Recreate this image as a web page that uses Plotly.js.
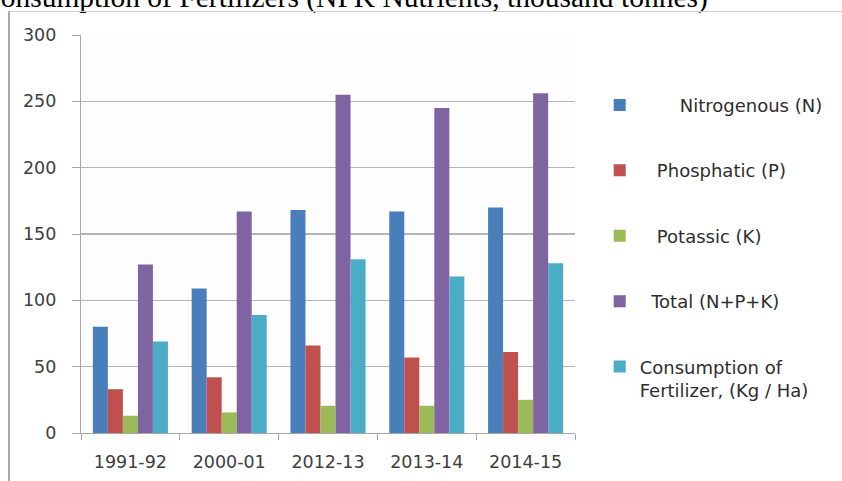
<!DOCTYPE html>
<html>
<head>
<meta charset="utf-8">
<script src="https://cdn.plot.ly/plotly-3.0.1.min.js"></script>
<style>
  html, body { margin: 0; padding: 0; background: #ffffff; }
  #wrap { position: relative; width: 842px; height: 481px; overflow: hidden; }
  #chart { position: absolute; left: 0; top: 0; width: 842px; height: 481px; }
  #frame {
    position: absolute; left: 8px; top: 11px; width: 850px; height: 480px;
    border-left: 2px solid #a9a9a9; border-top: 1px solid #cfcfcf;
    pointer-events: none;
  }
</style>
</head>
<body>
<div id="wrap">
  <div id="chart"></div>
  <div id="frame"></div>
</div>
<script>
// Fertilizer consumption by nutrient (thousand tonnes) and per-hectare use
const years = ['1991-92', '2000-01', '2012-13', '2013-14', '2014-15'];

const nitrogenous = [80, 109, 168, 167, 170];
const phosphatic  = [33, 42, 66, 57, 61];
const potassic    = [13, 15.5, 20.5, 20.5, 25];
const totalNPK    = [127, 167, 255, 245, 256];
const perHectare  = [69, 89, 131, 118, 128];

const seriesNames = [
  '\u00a0\u00a0\u00a0\u00a0\u00a0\u00a0\u00a0Nitrogenous (N)',
  '\u00a0\u00a0\u00a0Phosphatic (P)',
  '\u00a0\u00a0\u00a0Potassic (K)',
  '\u00a0\u00a0Total (N+P+K)',
  'Consumption of<br>Fertilizer, (Kg / Ha)'
];
const seriesColors = ['#4a7ebb', '#c0504d', '#9bbb59', '#8064a2', '#4bacc6'];
const seriesValues = [nitrogenous, phosphatic, potassic, totalNPK, perHectare];

const traces = seriesValues.map((vals, i) => ({
  type: 'bar',
  x: years,
  y: vals,
  name: seriesNames[i],
  legendgroup: 'g' + i,
  marker: { color: seriesColors[i], line: { width: 0 } },
  hoverinfo: 'x+y'
}));

const tickFont = { family: '"DejaVu Sans", sans-serif', size: 17.5, color: '#404040' };

const layout = {
  width: 842,
  height: 481,
  margin: { l: 81, r: 267, t: 35, b: 48 },
  paper_bgcolor: '#ffffff',
  plot_bgcolor: '#fdfdfd',
  barmode: 'group',
  bargap: 0.24,
  bargroupgap: 0,
  showlegend: true,
  legend: {
    x: 1.05, xanchor: 'left',
    y: 0.87, yanchor: 'top',
    font: { family: '"DejaVu Sans", sans-serif', size: 18, color: '#2e2e2e' },
    tracegroupgap: 39,
    valign: 'top',
    bgcolor: 'rgba(0,0,0,0)'
  },
  xaxis: {
    type: 'category',
    tickfont: tickFont,
    showline: true, linecolor: '#a6a6a6', linewidth: 1.2,
    ticks: 'outside', tickson: 'boundaries', ticklen: 6, tickcolor: '#a6a6a6',
    showgrid: false,
    ticklabelstandoff: 13,
    fixedrange: true
  },
  yaxis: {
    range: [0, 300],
    dtick: 50,
    tickfont: tickFont,
    showline: true, linecolor: '#a6a6a6', linewidth: 1.2,
    ticks: 'outside', ticklen: 8, tickcolor: '#a6a6a6',
    showgrid: true, gridcolor: '#b5b5b5', gridwidth: 1.2,
    zeroline: false,
    ticklabelstandoff: 12,
    fixedrange: true
  },
  annotations: [{
    text: 'Consumption of Fertilizers (NPK Nutrients, thousand tonnes)',
    xref: 'paper', yref: 'paper',
    x: -0.207, xanchor: 'left',
    y: 1.047, yanchor: 'bottom',
    showarrow: false,
    font: { family: '"Liberation Serif", "Times New Roman", serif', size: 29.5, color: '#000000' }
  }]
};

Plotly.newPlot('chart', traces, layout, { displayModeBar: false, staticPlot: true });
</script>
</body>
</html>
